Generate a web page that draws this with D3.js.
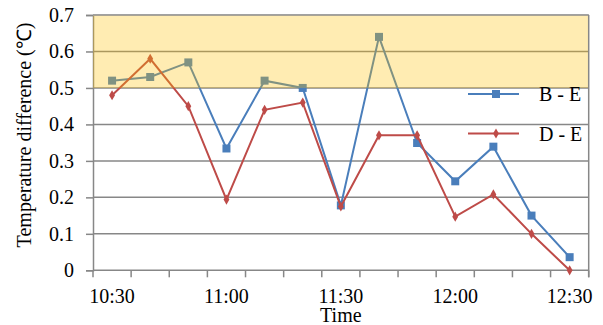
<!DOCTYPE html>
<html>
<head>
<meta charset="utf-8">
<script src="https://cdn.jsdelivr.net/npm/d3@7"></script>
<style>
  body { margin: 0; background: #fff; }
  svg, svg text { font-family: "Liberation Serif", "Times New Roman", serif !important; }
</style>
</head>
<body>
<div id="chart"></div>
<script>
// data
var times = ["10:30", "10:40", "10:50", "11:00", "11:10", "11:20", "11:30",
             "11:40", "11:50", "12:00", "12:10", "12:20", "12:30"];
var shownTimes = ["10:30", "11:00", "11:30", "12:00", "12:30"];
var seriesBE = [0.52, 0.53, 0.57, 0.334, 0.52, 0.50, 0.178, 0.64, 0.349, 0.244, 0.339, 0.15, 0.036];
var seriesDE = [0.48, 0.58, 0.45, 0.194, 0.44, 0.46, 0.175, 0.37, 0.37, 0.147, 0.208, 0.10, 0.0];
var yTicks = [0, 0.1, 0.2, 0.3, 0.4, 0.5, 0.6, 0.7];
var bandLow = 0.5, bandHigh = 0.7;

function renderChart(){
    var svgWidth = 603, svgHeight = 325;
    var margin = {top: 15, right: 14.3, bottom: 54.7, left: 93};
    var width = svgWidth - margin.left - margin.right;
    var height = svgHeight - margin.top - margin.bottom;
    var serif = "'Liberation Serif', 'Times New Roman', serif";

    var svg = d3.select("#chart").append("svg")
        .attr("width", svgWidth)
        .attr("height", svgHeight)
        .style("font-family", serif);

    var chartGroup = svg.append("g")
        .attr("transform", `translate(${margin.left}, ${margin.top})`);

    // scales
    var xScale = d3.scaleBand().domain(times).range([0, width]);
    var yScale = d3.scaleLinear().domain([0, 0.7]).range([height, 0]);
    var cx = d => xScale(d) + xScale.bandwidth() / 2;

    // gridlines
    chartGroup.append("g").selectAll("line")
        .data(yTicks.filter(d => d > 0))
        .enter().append("line")
        .attr("x1", 0).attr("x2", width)
        .attr("y1", d => yScale(d)).attr("y2", d => yScale(d))
        .attr("stroke", "#878787").attr("stroke-width", 1.5);

    // y axis
    var leftAxis = d3.axisLeft(yScale)
        .tickValues(yTicks)
        .tickSize(7)
        .tickPadding(12)
        .tickFormat(d => d === 0 ? "0" : d3.format(".1f")(d));
    var yAxis = chartGroup.append("g").call(leftAxis)
        .attr("font-family", null).attr("font-size", null);
    yAxis.select(".domain").attr("stroke", "#878787").attr("stroke-width", 1.5);
    yAxis.selectAll(".tick line").attr("stroke", "#878787").attr("stroke-width", 1.5);
    yAxis.selectAll("text").style("font-size", "20px").style("font-family", serif).attr("fill", "#000");

    // x axis: labels centred in bands, ticks at band edges
    var bottomAxis = d3.axisBottom(xScale).tickValues(shownTimes).tickSize(0);
    var xAxis = chartGroup.append("g")
        .attr("transform", `translate(0, ${height})`)
        .call(bottomAxis)
        .attr("font-family", null).attr("font-size", null);
    xAxis.select(".domain").remove();
    xAxis.selectAll("text")
        .attr("y", 33).attr("dy", 0).attr("fill", "#000")
        .style("font-size", "20px").style("font-family", serif);

    var edges = times.map(t => xScale(t)).concat([width]);
    xAxis.append("g").selectAll("line")
        .data(edges)
        .enter().append("line")
        .attr("x1", d => d).attr("x2", d => d)
        .attr("y1", 0).attr("y2", 7)
        .attr("stroke", "#878787").attr("stroke-width", 1.5);
    xAxis.append("line")
        .attr("x1", 0).attr("x2", width)
        .attr("y1", 0).attr("y2", 0)
        .attr("stroke", "#878787").attr("stroke-width", 1.5);

    // lines + markers
    function drawSeries(values, color, shape){
        var line = d3.line()
            .x((d, i) => cx(times[i]))
            .y(d => yScale(d));
        chartGroup.append("path")
            .datum(values)
            .attr("d", line)
            .attr("fill", "none")
            .attr("stroke", color)
            .attr("stroke-width", 2);
        chartGroup.append("g").selectAll("path")
            .data(values)
            .enter().append("path")
            .attr("d", d3.symbol().type(shape).size(shape === d3.symbolSquare ? 64 : 30))
            .attr("transform", (d, i) => `translate(${cx(times[i])}, ${yScale(d)})`)
            .attr("fill", color);
    }
    drawSeries(seriesBE, "#4a7ebb", d3.symbolSquare);
    drawSeries(seriesDE, "#be4b48", d3.symbolDiamond);

    // translucent yellow band laid over the lines
    chartGroup.append("rect")
        .attr("x", 0).attr("width", width)
        .attr("y", yScale(bandHigh))
        .attr("height", yScale(bandLow) - yScale(bandHigh))
        .attr("fill", "#ffc000")
        .attr("fill-opacity", 0.3);

    // top and right border above the band
    chartGroup.append("line")
        .attr("x1", 0).attr("x2", width).attr("y1", 0).attr("y2", 0)
        .attr("stroke", "#a0a0a0").attr("stroke-width", 1.5);
    chartGroup.append("line")
        .attr("x1", width).attr("x2", width).attr("y1", 0).attr("y2", height + 7)
        .attr("stroke", "#878787").attr("stroke-width", 1.5);

    // legend
    var legend = svg.append("g");
    var legendItems = [
        {name: "B - E", color: "#4a7ebb", shape: d3.symbolSquare, y: 94},
        {name: "D - E", color: "#be4b48", shape: d3.symbolDiamond, y: 133.5}
    ];
    legendItems.forEach(function(item){
        legend.append("line")
            .attr("x1", 468).attr("x2", 519)
            .attr("y1", item.y).attr("y2", item.y)
            .attr("stroke", item.color).attr("stroke-width", 2);
        legend.append("path")
            .attr("d", d3.symbol().type(item.shape).size(item.shape === d3.symbolSquare ? 64 : 30))
            .attr("transform", `translate(496, ${item.y})`)
            .attr("fill", item.color);
        legend.append("text")
            .attr("x", 539).attr("y", item.y + 7.3)
            .style("font-size", "20px")
            .text(item.name);
    });

    // axis titles
    svg.append("text")
        .attr("x", margin.left + width / 2).attr("y", 322)
        .attr("text-anchor", "middle")
        .style("font-size", "20px")
        .text("Time");

    svg.append("text")
        .attr("transform", "translate(31, 135) rotate(-90)")
        .attr("text-anchor", "middle")
        .style("font-size", "20px")
        .text("Temperature difference (℃)");
}
renderChart();
</script>
</body>
</html>
